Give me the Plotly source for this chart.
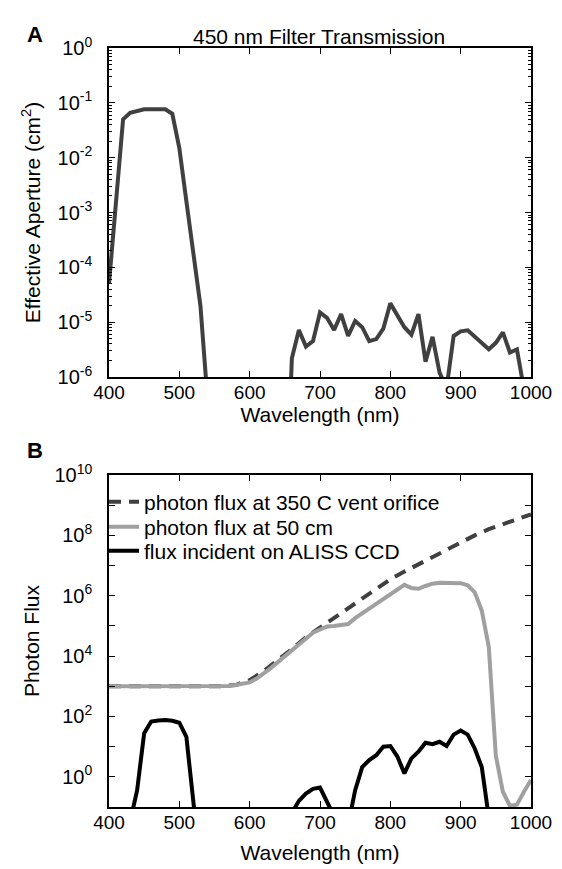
import plotly.graph_objects as go

# ---------------- data ----------------
wavelength = list(range(400, 1001, 10))          # nm, 10 nm grid
wavelength_coarse = list(range(400, 1001, 20))   # nm, 20 nm grid

# Panel A: effective aperture (cm^2) of the 450 nm filter
aperture = [
    5.0e-5, 1.6e-3, 5.0e-2, 6.6e-2, 7.2e-2, 7.6e-2, 7.6e-2, 7.6e-2, 7.6e-2, 6.3e-2,   # 400-490
    1.5e-2, 1.6e-3, 1.8e-4, 2.0e-5, 4.0e-7, 1e-9, 1e-9, 1e-9, 1e-9, 1e-9,               # 500-590
    1e-9, 1e-9, 1e-9, 1e-9, 1e-9, 1e-9, 2.2e-6, 7.2e-6, 3.6e-6, 4.5e-6,                 # 600-690
    1.5e-5, 1.2e-5, 7.2e-6, 1.4e-5, 5.6e-6, 1.05e-5, 8.1e-6, 4.5e-6, 4.9e-6, 7.6e-6,    # 700-790
    2.2e-5, 1.3e-5, 8.1e-6, 5.9e-6, 1.4e-5, 1.9e-6, 5.4e-6, 1.2e-6, 6.3e-7, 5.6e-6,     # 800-890
    6.8e-6, 7.1e-6, 5.4e-6, 4.2e-6, 3.2e-6, 4.2e-6, 6.5e-6, 2.8e-6, 3.2e-6, 6.0e-7,     # 900-990
    1e-9,                                                                               # 1000
]

# Panel B: photon flux at 350 C vent orifice (20 nm grid)
flux_orifice = [
    1.0e3, 1.0e3, 1.0e3, 1.0e3, 1.0e3, 1.0e3, 1.0e3, 1.0e3, 1.0e3,   # 400-560
    1.1e3, 1.6e3, 3.2e3, 7.1e3, 1.7e4, 4.2e4, 8.9e4, 1.9e5, 4.0e5,   # 580-740
    8.5e5, 1.8e6, 3.5e6, 6.3e6, 1.1e7, 2.0e7, 3.5e7, 6.0e7, 1.0e8,   # 760-920
    1.6e8, 2.4e8, 3.5e8, 5.0e8,                                      # 940-1000
]

# Panel B: photon flux at 50 cm (10 nm grid)
flux_50cm = [
    1.0e3, 1.0e3, 1.0e3, 1.0e3, 1.0e3, 1.0e3, 1.0e3, 1.0e3, 1.0e3, 1.0e3,      # 400-490
    1.0e3, 1.0e3, 1.0e3, 1.0e3, 1.0e3, 1.0e3, 1.0e3, 1.02e3, 1.1e3, 1.2e3,     # 500-590
    1.35e3, 1.8e3, 2.6e3, 4.0e3, 6.3e3, 1.0e4, 1.6e4, 2.5e4, 4.0e4, 6.0e4,     # 600-690
    7.6e4, 9.5e4, 1.0e5, 1.05e5, 1.15e5, 1.8e5, 2.6e5, 3.5e5, 5.2e5, 7.4e5,    # 700-790
    1.05e6, 1.66e6, 2.3e6, 1.8e6, 1.7e6, 2.1e6, 2.5e6, 2.7e6, 2.7e6, 2.7e6,    # 800-890
    2.6e6, 2.2e6, 1.3e6, 3.2e5, 2.0e4, 5.0e0, 3.2e-1, 1.1e-1, 1.2e-1, 3.2e-1,  # 900-990
    7.9e-1,                                                                    # 1000
]

# Panel B: flux incident on ALISS CCD (10 nm grid)
flux_ccd = [
    1e-3, 1e-3, 1e-3, 3.2e-2, 3.6e-1, 2.8e1, 6.8e1, 7.4e1, 7.6e1, 7.2e1,       # 400-490
    6.2e1, 2.1e1, 5.0e-2, 1e-3, 1e-3, 1e-3, 1e-3, 1e-3, 1e-3, 1e-3,            # 500-590
    1e-3, 1e-3, 1e-3, 1e-3, 1e-3, 1e-3, 6.3e-2, 1.6e-1, 2.8e-1, 4.0e-1,        # 600-690
    4.4e-1, 1.4e-1, 5.0e-2, 1e-3, 2.5e-2, 3.6e-1, 2.1e0, 3.6e0, 5.2e0, 1.0e1,  # 700-790
    1.05e1, 4.7e0, 1.3e0, 4.1e0, 6.8e0, 1.35e1, 1.2e1, 1.45e1, 1.05e1, 2.5e1,  # 800-890
    3.4e1, 2.5e1, 8.7e0, 2.1e0, 3.2e-2, 1e-3, 1e-3, 1e-3, 1e-3, 1e-3,          # 900-990
    1e-3,                                                                      # 1000
]

x_ticks = [400, 500, 600, 700, 800, 900, 1000]
a_tickvals = [1e-6, 1e-5, 1e-4, 1e-3, 1e-2, 1e-1, 1e0]
a_ticktext = ["10<sup>-6</sup>", "10<sup>-5</sup>", "10<sup>-4</sup>", "10<sup>-3</sup>",
              "10<sup>-2</sup>", "10<sup>-1</sup>", "10<sup>0</sup>"]
b_tickvals = [1e-1, 1e0, 1e1, 1e2, 1e3, 1e4, 1e5, 1e6, 1e7, 1e8, 1e9, 1e10]
b_ticktext = ["", "10<sup>0</sup>", "", "10<sup>2</sup>", "", "10<sup>4</sup>", "",
              "10<sup>6</sup>", "", "10<sup>8</sup>", "", "10<sup>10</sup>"]

legend_names = ["photon flux at 350 C vent orifice", "photon flux at 50 cm",
                "flux incident on ALISS CCD"]

# ---------------- figure ----------------
W, H = 562, 869
FONT = "Liberation Sans, Arial, Helvetica, sans-serif"
DARK = "#404040"
GRAY = "#a0a0a0"
LW = 4

fig = go.Figure()

fig.add_trace(go.Scatter(x=wavelength, y=aperture, mode="lines",
                         line=dict(color=DARK, width=LW), showlegend=False,
                         xaxis="x", yaxis="y"))

fig.add_trace(go.Scatter(x=wavelength_coarse, y=flux_orifice, mode="lines",
                         name=legend_names[0], legend="legend",
                         line=dict(color=DARK, width=LW, dash="12px,8px"),
                         xaxis="x2", yaxis="y2"))
fig.add_trace(go.Scatter(x=wavelength, y=flux_50cm, mode="lines",
                         name=legend_names[1], legend="legend2",
                         line=dict(color=GRAY, width=LW),
                         xaxis="x2", yaxis="y2"))
fig.add_trace(go.Scatter(x=wavelength, y=flux_ccd, mode="lines",
                         name=legend_names[2], legend="legend3",
                         line=dict(color="black", width=LW),
                         xaxis="x2", yaxis="y2"))

x0, x1 = 109 / W, 531 / W
ya = [1 - 377 / H, 1 - 48 / H]
yb = [1 - 807 / H, 1 - 475 / H]

common_axis = dict(showline=True, linecolor="black", linewidth=1.5, mirror="ticks",
                   ticks="inside", tickcolor="black", tickwidth=1.2, ticklen=6,
                   showgrid=False, zeroline=False, automargin=False,
                   tickfont=dict(family=FONT, size=19, color="black"),
                   title_font=dict(family=FONT, size=21, color="black"))
ytickfont = dict(family=FONT, size=20, color="black")


def legend_at(row_center_y):
    return dict(x=(146 - 42) / W, y=1 - row_center_y / H, xanchor="left",
                yanchor="middle", bgcolor="rgba(0,0,0,0)", borderwidth=0,
                font=dict(family=FONT, size=21, color="black"), itemwidth=30)


fig.update_layout(
    width=W, height=H,
    margin=dict(l=0, r=0, t=0, b=0),
    paper_bgcolor="white", plot_bgcolor="white",
    font=dict(family=FONT, size=19, color="black"),
    xaxis=dict(common_axis, domain=[x0, x1], anchor="y", range=[400, 1000],
               tickvals=x_ticks, ticklabelstandoff=-3,
               title=dict(text="Wavelength (nm)", standoff=0)),
    yaxis=dict(common_axis, domain=ya, anchor="x", type="log", range=[-6, 0],
               tickvals=a_tickvals, ticktext=a_ticktext, ticklabelstandoff=11,
               tickfont=ytickfont,
               minor=dict(ticks="inside", ticklen=3, tickwidth=1, tickcolor="black",
                          dtick="D1", showgrid=False),
               title=dict(text="Effective Aperture (cm<sup>2</sup>)", standoff=11)),
    xaxis2=dict(common_axis, domain=[x0, x1], anchor="y2", range=[400, 1000],
                tickvals=x_ticks, ticklabelstandoff=-3,
                title=dict(text="Wavelength (nm)", standoff=14)),
    yaxis2=dict(common_axis, domain=yb, anchor="x2", type="log", range=[-1, 10],
                tickvals=b_tickvals, ticktext=b_ticktext, ticklabelstandoff=11,
                tickfont=ytickfont,
                title=dict(text="Photon Flux", standoff=9)),
    legend=legend_at(502),
    legend2=legend_at(527),
    legend3=legend_at(551),
    annotations=[
        dict(text="450 nm Filter Transmission", x=319 / W, y=1 - 23 / H,
             xref="paper", yref="paper", showarrow=False,
             font=dict(family=FONT, size=21, color="black")),
        dict(text="<b>A</b>", x=25 / W, y=1 - 20 / H, xref="paper", yref="paper",
             showarrow=False, font=dict(family=FONT, size=22, color="black")),
        dict(text="<b>B</b>", x=25 / W, y=1 - 450 / H, xref="paper", yref="paper",
             showarrow=False, font=dict(family=FONT, size=22, color="black")),
    ],
)

fig.write_html("out.html")
